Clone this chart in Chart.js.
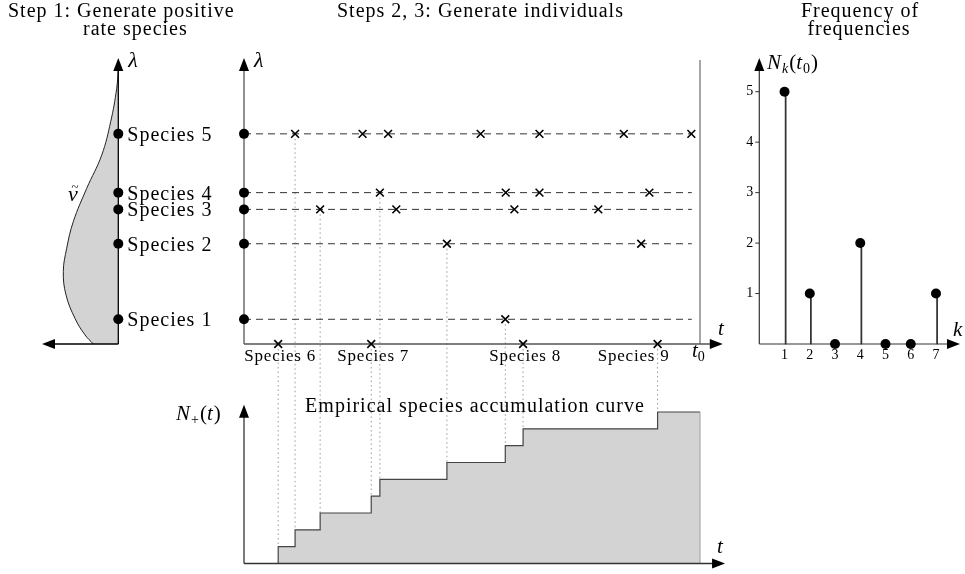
<!DOCTYPE html>
<html><head><meta charset="utf-8">
<script src="https://cdn.jsdelivr.net/npm/chart.js@4.4.1/dist/chart.umd.min.js"></script>
<style>html,body{margin:0;padding:0;background:#fff}#wrap{position:relative;width:965px;height:574px}</style>
</head><body><div id="wrap"><canvas id="c"></canvas></div>
<script>
// ---------------- data ----------------
const speciesNames = ['Species 1', 'Species 2', 'Species 3', 'Species 4', 'Species 5'];
const speciesRates = [0.87, 3.53, 4.74, 5.33, 7.40];
const speciesEventTimes = [
  [5.73],
  [4.45, 8.71],
  [1.67, 3.34, 5.93, 7.77],
  [2.98, 5.74, 6.48, 8.89],
  [1.12, 2.60, 3.16, 5.19, 6.48, 8.33, 9.81]
];
const zeroRateNames = ['Species 6', 'Species 7', 'Species 8', 'Species 9'];
const zeroRateTimes = [0.75, 2.79, 6.12, 9.07];
const densityRate  = [0, 0.32, 0.90, 1.73, 2.55, 3.37, 4.31, 5.48, 6.65, 7.83, 9.00, 9.71];
const densityValue = [0.25, 0.333, 0.433, 0.523, 0.55, 0.516, 0.45, 0.316, 0.166, 0.076, 0.016, 0];
const accumTimes  = [0, 0.75, 1.12, 1.67, 2.79, 2.98, 4.45, 5.73, 6.12, 9.07, 10];
const accumCounts = [0, 1, 2, 3, 4, 5, 6, 7, 8, 9, 9];
const freqK = [1, 2, 3, 4, 5, 6, 7];
const freqN = [5, 1, 0, 2, 0, 0, 1];
const freqYTicks = [1, 2, 3, 4, 5];
const freqXTicks = [1, 2, 3, 4, 5, 6, 7];
const tZero = 10;          // t0
const dashEnd = 9.82;      // end of the dashed rate lines

// ---------------- layout / style ----------------
const W = 965, H = 574;
const FONT = '"Liberation Serif", "Times New Roman", serif';
function fit(axis, v0, p0, v1, p1) {
  const s = (p1 - p0) / (v1 - v0);
  const size = axis === 'x' ? W : H;
  const a = v0 + (0 - p0) / s, b = v0 + (size - p0) / s;
  return {type: 'linear', axis, display: false, bounds: 'data', offset: false,
          min: Math.min(a, b), max: Math.max(a, b),
          reverse: axis === 'x' ? s < 0 : s > 0,
          grid: {display: false}, ticks: {display: false}};
}
const scales = {
  xd: fit('x', 0, 118.3, 0.763, 42),   // density (left panel, grows leftwards)
  yl: fit('y', 0, 344, 10, 60),        // rate lambda
  xt: fit('x', 0, 244, 10, 700),       // time t
  yn: fit('y', 0, 563.5, 9, 412),      // N_+(t)
  xk: fit('x', 0, 759.3, 7, 936),      // k
  yk: fit('y', 0, 344, 5, 91.7)        // N_k(t0)
};

// ---------------- datasets ----------------
const datasets = [];
// density curve
datasets.push({
  type: 'line', indexAxis: 'y', xAxisID: 'xd', yAxisID: 'yl', order: 9,
  data: densityRate.map((r, i) => ({x: densityValue[i], y: r})),
  borderColor: '#222', borderWidth: 1, backgroundColor: '#d3d3d3',
  fill: 'origin', tension: 0.4, pointRadius: 0
});
// species dots on left axis
datasets.push({
  type: 'scatter', xAxisID: 'xd', yAxisID: 'yl', order: 0,
  data: speciesRates.map(r => ({x: 0, y: r})),
  pointRadius: 5, backgroundColor: '#000', borderColor: '#000', borderWidth: 0
});
// dashed rate lines
speciesRates.forEach(r => datasets.push({
  type: 'line', xAxisID: 'xt', yAxisID: 'yl', order: 6,
  data: [{x: 0, y: r}, {x: dashEnd, y: r}],
  borderColor: '#333', borderWidth: 1, borderDash: [7, 5], pointRadius: 0, fill: false
}));
// species dots on middle axis
datasets.push({
  type: 'scatter', xAxisID: 'xt', yAxisID: 'yl', order: 0,
  data: speciesRates.map(r => ({x: 0, y: r})),
  pointRadius: 5, backgroundColor: '#000', borderColor: '#000', borderWidth: 0
});
// individuals (crosses)
speciesEventTimes.forEach((ts, i) => datasets.push({
  type: 'scatter', xAxisID: 'xt', yAxisID: 'yl', order: 1,
  data: ts.map(t => ({x: t, y: speciesRates[i]})),
  pointStyle: 'crossRot', pointRadius: 5.5, borderColor: '#000', borderWidth: 1.6
}));
datasets.push({
  type: 'scatter', xAxisID: 'xt', yAxisID: 'yl', order: 1,
  data: zeroRateTimes.map(t => ({x: t, y: 0})),
  pointStyle: 'crossRot', pointRadius: 5.5, borderColor: '#000', borderWidth: 1.6
});
// accumulation curve
datasets.push({
  type: 'line', xAxisID: 'xt', yAxisID: 'yn', order: 8,
  data: accumTimes.map((t, i) => ({x: t, y: accumCounts[i]})),
  stepped: 'before', borderColor: '#444', borderWidth: 1.2, backgroundColor: '#d3d3d3',
  fill: 'origin', pointRadius: 0
});
// frequency of frequencies: stems + dots
datasets.push({
  type: 'bar', xAxisID: 'xk', yAxisID: 'yk', order: 3,
  data: freqK.map((k, i) => ({x: k, y: freqN[i]})),
  backgroundColor: '#333', borderWidth: 0, barThickness: 1.1
});
datasets.push({
  type: 'scatter', xAxisID: 'xk', yAxisID: 'yk', order: 0,
  data: freqK.map((k, i) => ({x: k, y: freqN[i]})),
  pointRadius: 5, backgroundColor: '#000', borderColor: '#000', borderWidth: 0
});

// ---------------- drawing helpers ----------------
function seg(c, x1, y1, x2, y2, color, w, dash) {
  c.save(); c.strokeStyle = color; c.lineWidth = w; c.setLineDash(dash || []);
  c.beginPath(); c.moveTo(x1, y1); c.lineTo(x2, y2); c.stroke(); c.restore();
}
function head(c, x, y, dx, dy) {
  const len = 13, half = 5;
  const bx = x - dx * len, by = y - dy * len;
  c.save(); c.fillStyle = '#000'; c.beginPath(); c.moveTo(x, y);
  c.lineTo(bx - dy * half, by + dx * half); c.lineTo(bx + dy * half, by - dx * half);
  c.closePath(); c.fill(); c.restore();
}
function txt(c, s, x, y, size, opts) {
  opts = opts || {};
  c.save();
  c.font = (opts.italic ? 'italic ' : '') + size + 'px ' + FONT;
  c.fillStyle = '#000'; c.textAlign = opts.align || 'left';
  c.textBaseline = opts.baseline || 'alphabetic';
  if ('letterSpacing' in c) c.letterSpacing = (opts.ls || 0) + 'px';
  c.fillText(s, x, y);
  const w = c.measureText(s).width;
  c.restore();
  return w;
}
function run(c, parts, x, y) {
  parts.forEach(p => { x += txt(c, p[0], x, y + (p[3] || 0), p[1], {italic: p[2]}) + (p[4] || 0); });
}

const decor = {
  id: 'decor',
  beforeDatasetsDraw(chart) {
    const c = chart.ctx, S = chart.scales;
    const P = (id, v) => S[id].getPixelForValue(v);
    // dotted connectors from first individuals to the accumulation jumps
    const firsts = speciesEventTimes.map((ts, i) => ({t: ts[0], lam: speciesRates[i]}))
      .concat(zeroRateTimes.map(t => ({t, lam: 0})))
      .sort((a, b) => a.t - b.t);
    firsts.forEach((f, j) => {
      const x = P('xt', f.t);
      seg(c, x, P('yl', f.lam) + 5, x, P('yn', accumCounts[j + 1]), '#9a9a9a', 1, [1.5, 3]);
    });
    // middle panel axes
    const x0 = P('xt', 0), yb = P('yl', 0);
    seg(c, x0, yb, x0, P('yl', 10.07) + 6, '#555', 1.3);
    head(c, x0, P('yl', 10.07), 0, -1);
    seg(c, P('xt', tZero), yb, P('xt', tZero), P('yl', 10), '#777', 1.3);
    seg(c, x0, yb, P('xt', 10.5) - 6, yb, '#555', 1.3);
    head(c, P('xt', 10.5), yb, 1, 0);
    // right panel axes
    const kx = P('xk', 0), ky = P('yk', 0);
    seg(c, kx, ky, kx, P('yk', 5.67) + 6, '#333', 1.2);
    head(c, kx, P('yk', 5.67), 0, -1);
    seg(c, kx, ky, P('xk', 7.95) - 6, ky, '#333', 1.2);
    head(c, P('xk', 7.95), ky, 1, 0);
    freqYTicks.forEach(v => seg(c, kx - 4, P('yk', v), kx, P('yk', v), '#333', 1));
  },
  afterDatasetsDraw(chart) {
    const c = chart.ctx, S = chart.scales;
    const P = (id, v) => S[id].getPixelForValue(v);
    // left panel axes
    const lx = P('xd', 0), ly = P('yl', 0);
    seg(c, lx, ly, lx, P('yl', 10.07) + 6, '#000', 1.3);
    head(c, lx, P('yl', 10.07), 0, -1);
    seg(c, lx, ly, P('xd', 0.763) + 6, ly, '#000', 1.3);
    head(c, P('xd', 0.763), ly, -1, 0);
    // bottom panel axes
    const bx = P('xt', 0), by = P('yn', 0);
    seg(c, P('xt', tZero), P('yn', 9), P('xt', tZero), by, '#aaa', 1.2);
    seg(c, bx, by, bx, P('yn', 9.43) + 6, '#333', 1.3);
    head(c, bx, P('yn', 9.43), 0, -1);
    seg(c, bx, by, P('xt', 10.55) - 6, by, '#333', 1.3);
    head(c, P('xt', 10.55), by, 1, 0);

    // titles
    txt(c, 'Step 1: Generate positive', 8, 17, 20, {ls: 1});
    txt(c, 'rate species', 83, 35, 20, {ls: 1});
    txt(c, 'Steps 2, 3: Generate individuals', 337, 17, 20, {ls: 1});
    txt(c, 'Frequency of', 860, 17, 20, {ls: 1, align: 'center'});
    txt(c, 'frequencies', 859, 35, 20, {ls: 1, align: 'center'});

    // left panel labels
    txt(c, 'λ', lx + 10, 67, 22, {italic: true});
    txt(c, 'ν', 73, 201, 22, {italic: true, align: 'center'});
    txt(c, '~', 75, 191, 13, {align: 'center'});
    speciesNames.forEach((n, i) => txt(c, n, lx + 9, P('yl', speciesRates[i]) + 7, 20, {ls: 1}));

    // middle panel labels
    txt(c, 'λ', P('xt', 0) + 10, 67, 22, {italic: true});
    const lblShift = [2, 2, 2, -24];
    zeroRateNames.forEach((n, i) => txt(c, n, P('xt', zeroRateTimes[i]) + lblShift[i], 361, 17, {ls: 0.8, align: 'center'}));
    txt(c, 't', 718, 335, 21, {italic: true});
    run(c, [['t', 21, true], ['0', 14, false, 4]], P('xt', tZero) - 8, 357);

    // bottom panel labels
    run(c, [['N', 21, true, 0, 1], ['+', 14, false, 4, 1], ['(', 21, false], ['t', 21, true, 0, 1], [')', 21, false]], 176, 420);
    txt(c, 'Empirical species accumulation curve', 475, 412, 20, {ls: 1, align: 'center'});
    txt(c, 't', 717, 553, 21, {italic: true});

    // right panel labels
    run(c, [['N', 21, true, 0, 1], ['k', 14, true, 4, 1], ['(', 21, false], ['t', 21, true, 0, 1], ['0', 14, false, 4, 1], [')', 21, false]], 767, 69);
    txt(c, 'k', 953, 336, 21, {italic: true});
    const kx = P('xk', 0);
    freqYTicks.forEach(v => txt(c, String(v), kx - 6, P('yk', v), 14, {align: 'right', baseline: 'middle'}));
    freqXTicks.forEach(v => txt(c, String(v), P('xk', v), 359, 14, {align: 'center'}));
  }
};

new Chart(document.getElementById('c'), {
  type: 'line',
  data: {datasets},
  options: {
    responsive: true, maintainAspectRatio: false, animation: false,
    layout: {padding: 0, autoPadding: false},
    plugins: {legend: {display: false}, tooltip: {enabled: false}},
    events: [],
    scales
  },
  plugins: [decor]
});
</script></body></html>
